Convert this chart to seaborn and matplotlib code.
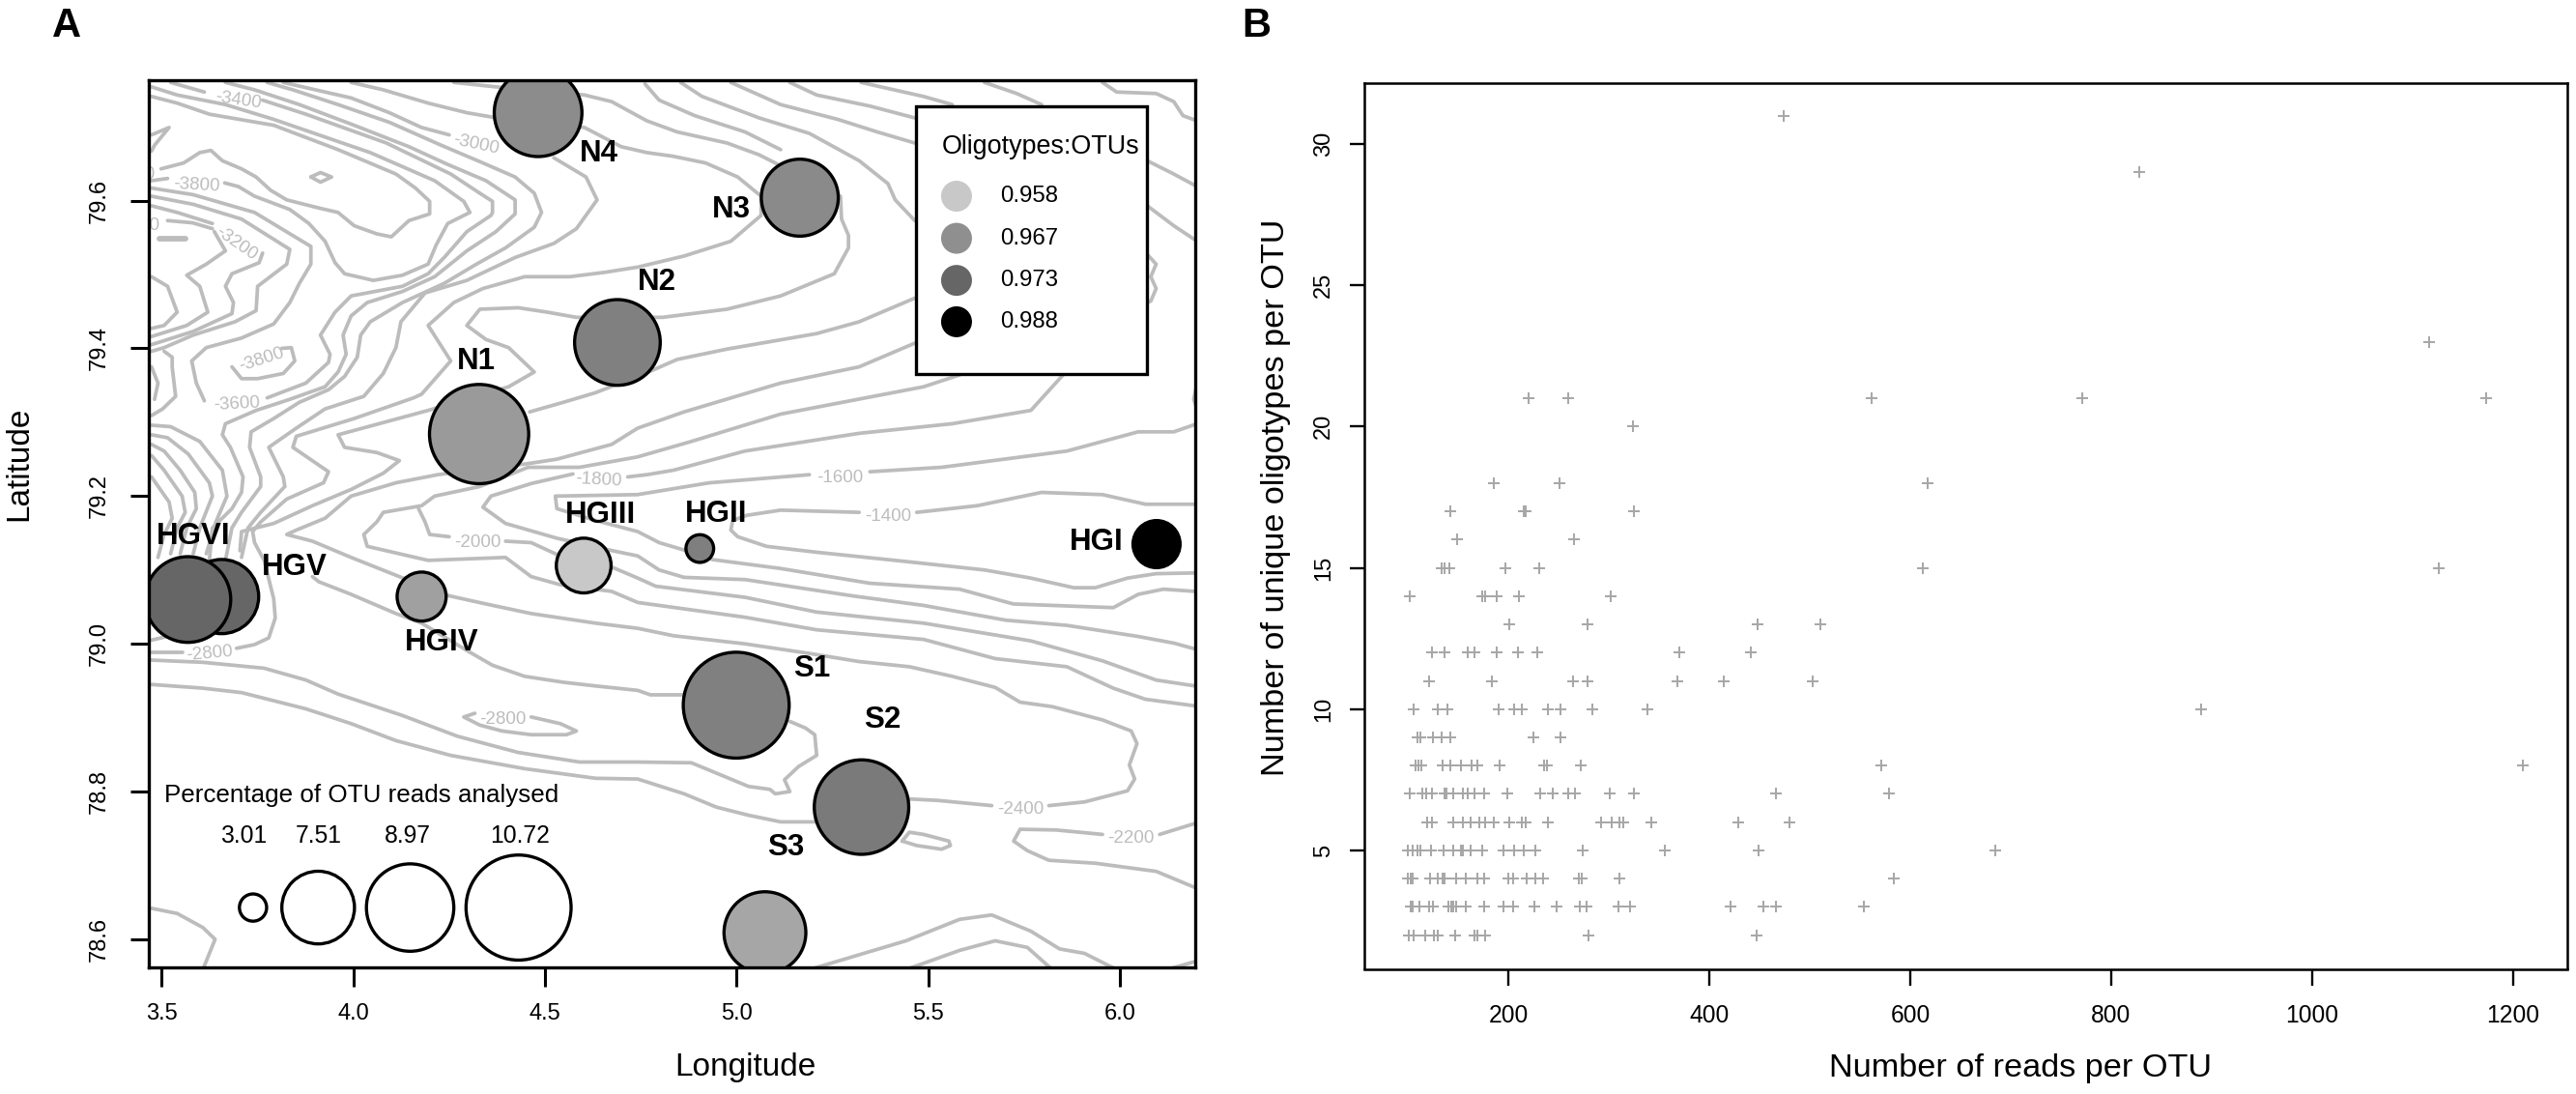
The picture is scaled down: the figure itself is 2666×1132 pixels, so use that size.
import matplotlib
matplotlib.use("Agg")
import matplotlib.pyplot as plt
from matplotlib.patches import Rectangle
import pandas as pd
import seaborn as sns

# ---------- panel A: station values ----------
station_names = ["HGV", "HGVI", "HGIV", "HGIII", "HGII", "HGI", "N1", "N2", "N3", "N4", "S1", "S2", "S3"]
station_lon = [3.656, 3.568, 4.178, 4.601, 4.904, 6.096, 4.328, 4.689, 5.165, 4.482, 4.999, 5.326, 5.074]
station_lat = [79.064, 79.060, 79.064, 79.106, 79.129, 79.135, 79.284, 79.408, 79.604, 79.719, 78.917, 78.779, 78.609]
station_pct = [7.66, 8.80, 5.17, 5.74, 3.06, 4.98, 10.14, 8.80, 7.94, 9.00, 10.80, 9.67, 8.42]
station_fill = ["#666666", "#666666", "#a0a0a0", "#c8c8c8", "#7f7f7f", "#000000", "#9a9a9a", "#808080",
                "#8a8a8a", "#8c8c8c", "#808080", "#7a7a7a", "#a6a6a6"]
label_lon = [3.847, 3.582, 4.230, 4.646, 4.946, 5.940, 4.321, 4.792, 4.986, 4.641, 5.196, 5.380, 5.128]
label_lat = [79.104, 79.146, 79.002, 79.174, 79.176, 79.138, 79.382, 79.490, 79.588, 79.663, 78.966, 78.897, 78.724]

ratio_values = ["0.958", "0.967", "0.973", "0.988"]
ratio_fill = ["#c8c8c8", "#8f8f8f", "#666666", "#000000"]
ratio_lat = [79.606, 79.549, 79.492, 79.436]
size_key_pct = [3.01, 7.51, 8.97, 10.72]
size_key_lon = [3.738, 3.908, 4.148, 4.431]
size_key_text_lon = [3.713, 3.910, 4.142, 4.434]

# bathymetry contours (lon, lat)
c01 = [(3.473,79.741),(3.540,79.732),(3.624,79.717),(3.792,79.702),(3.960,79.669),(4.111,79.636),(4.162,79.617),(4.199,79.599),(4.199,79.582),(4.145,79.573),(4.099,79.551),(4.061,79.555),(4.002,79.566),(3.960,79.584),(3.910,79.590),(3.826,79.601),(3.784,79.614),(3.746,79.632),(3.708,79.643),(3.658,79.654),(3.628,79.668),(3.599,79.665),(3.557,79.651),(3.498,79.643)]
c02 = [(3.473,79.754),(3.540,79.743),(3.666,79.730),(3.792,79.710),(3.876,79.695),(4.044,79.665),(4.212,79.627),(4.288,79.599),(4.304,79.584),(4.246,79.569),(4.216,79.540),(4.195,79.514),(4.128,79.499),(4.052,79.492),(3.977,79.501),(3.952,79.516),(3.926,79.545),(3.884,79.569),(3.834,79.588),(3.742,79.606),(3.700,79.619),(3.664,79.624)]
c03 = [(3.473,79.627),(3.515,79.630)]
c04 = [(3.523,79.760),(3.611,79.747)]
c05 = [(3.763,79.736),(3.876,79.717),(4.086,79.678),(4.254,79.636),(4.330,79.610),(4.363,79.599),(4.363,79.584),(4.359,79.580),(4.296,79.558),(4.237,79.523),(4.195,79.501),(4.128,79.484),(3.994,79.471),(3.952,79.449),(3.914,79.418),(3.939,79.392),(3.935,79.381),(3.876,79.353),(3.775,79.333)]
c06 = [(3.473,79.617),(3.582,79.608),(3.742,79.584),(3.889,79.538),(3.889,79.514),(3.859,79.488),(3.834,79.462),(3.792,79.433),(3.708,79.414),(3.616,79.401),(3.578,79.383),(3.590,79.353),(3.611,79.329)]
c07 = [(3.473,79.606),(3.582,79.595),(3.708,79.575),(3.834,79.534),(3.826,79.514),(3.750,79.484),(3.746,79.451),(3.691,79.436),(3.582,79.418),(3.506,79.401),(3.473,79.396)]
c08 = [(3.473,79.593),(3.540,79.584),(3.632,79.569)]
c09 = [(3.515,79.573),(3.580,79.570),(3.632,79.562)]
c10 = [(3.637,79.558),(3.666,79.532),(3.616,79.514),(3.565,79.499),(3.599,79.484),(3.620,79.449),(3.565,79.431),(3.473,79.416)]
c11 = [(3.763,79.529),(3.754,79.516),(3.683,79.501),(3.666,79.484),(3.687,79.462),(3.683,79.447),(3.582,79.423),(3.473,79.405)]
c12 = [(3.473,79.497),(3.515,79.484),(3.540,79.449),(3.506,79.431),(3.473,79.427)]
c13 = [(3.473,79.689),(3.519,79.699),(3.481,79.675),(3.473,79.667)]
c14 = [(3.506,79.396),(3.527,79.388),(3.527,79.375),(3.536,79.335),(3.502,79.318),(3.473,79.309)]
c15 = [(3.473,79.375),(3.490,79.353),(3.481,79.331)]
c16 = [(3.683,79.375),(3.708,79.359),(3.750,79.359),(3.817,79.366),(3.847,79.383),(3.838,79.401),(3.813,79.400)]
c17 = [(3.889,79.632),(3.914,79.638),(3.943,79.632),(3.914,79.625),(3.889,79.632)]
c18 = [(3.666,79.760),(3.742,79.750),(3.859,79.730),(4.002,79.702),(4.145,79.673),(4.246,79.649),(4.346,79.627),(4.422,79.601),(4.422,79.582),(4.372,79.558),(4.296,79.532),(4.212,79.497),(4.128,79.477),(4.036,79.462),(3.994,79.444),(3.973,79.418),(3.981,79.392),(3.960,79.368),(3.926,79.348),(3.834,79.331),(3.746,79.316),(3.666,79.298),(3.658,79.283),(3.679,79.266),(3.712,79.226),(3.708,79.205),(3.683,79.183),(3.632,79.157),(3.624,79.113)]
c19 = [(3.775,79.760),(3.842,79.750),(3.960,79.730),(4.094,79.706),(4.229,79.675),(4.338,79.651),(4.422,79.632),(4.472,79.610),(4.491,79.584),(4.472,79.564),(4.397,79.536),(4.321,79.514),(4.237,79.488),(4.128,79.462),(4.044,79.436),(4.019,79.418),(4.010,79.388),(3.977,79.362),(3.935,79.344),(3.859,79.327),(3.792,79.305),(3.733,79.287),(3.729,79.266),(3.758,79.226),(3.758,79.213),(3.708,79.178),(3.683,79.157),(3.666,79.113)]
c20 = [(3.817,79.760),(3.901,79.750),(3.994,79.739),(4.094,79.719),(4.178,79.699),(4.250,79.689)]
c21 = [(4.523,79.658),(4.607,79.632),(4.636,79.601),(4.582,79.562),(4.523,79.542),(4.422,79.523),(4.296,79.492),(4.187,79.475),(4.124,79.436),(4.111,79.401),(4.078,79.366),(4.027,79.335),(3.926,79.318),(3.851,79.292),(3.779,79.266),(3.817,79.226),(3.821,79.213),(3.758,79.178),(3.725,79.157),(3.708,79.117)]
c22 = [(3.994,79.760),(4.078,79.750),(4.195,79.732),(4.296,79.719),(4.363,79.713),(4.603,79.699),(4.699,79.673),(4.766,79.665),(4.835,79.660),(4.919,79.651),(5.003,79.632),(5.064,79.606),(5.064,79.580),(4.985,79.545),(4.863,79.525),(4.742,79.510),(4.657,79.503),(4.565,79.497),(4.447,79.497),(4.338,79.481),(4.262,79.462),(4.195,79.431),(4.254,79.383),(4.178,79.338),(4.157,79.333),(4.002,79.305),(3.851,79.281),(3.842,79.266),(3.935,79.233),(3.922,79.218),(3.826,79.196),(3.758,79.165),(3.737,79.152),(3.742,79.137),(3.767,79.113),(3.792,79.061),(3.796,79.035),(3.779,79.008),(3.742,78.999),(3.695,78.994)]
c23 = [(3.553,78.989),(3.473,78.989)]
c24 = [(4.262,79.760),(4.372,79.754),(4.603,79.743),(4.674,79.734),(4.766,79.708),(4.845,79.693),(4.975,79.678),(5.059,79.662),(5.271,79.606),(5.274,79.575),(5.292,79.553),(5.292,79.536),(5.255,79.501),(5.115,79.471),(4.975,79.453),(4.807,79.442),(4.582,79.442),(4.506,79.449),(4.430,79.455),(4.330,79.453),(4.296,79.431),(4.346,79.412),(4.405,79.401),(4.472,79.368),(4.405,79.348),(4.195,79.316),(3.960,79.283),(3.977,79.266),(4.061,79.259),(4.120,79.248),(4.078,79.231),(3.994,79.209),(3.893,79.187),(3.792,79.163),(3.708,79.152),(3.704,79.126)]
c25 = [(4.854,79.760),(4.910,79.741),(5.059,79.712),(5.190,79.691),(5.320,79.654),(5.395,79.623),(5.414,79.601),(5.465,79.573),(6.072,79.527),(6.095,79.514),(6.081,79.497),(6.095,79.481),(6.081,79.464),(6.072,79.462)]
c26 = [(4.761,79.758),(4.798,79.736),(4.891,79.715),(5.022,79.693),(5.115,79.669)]
c27 = [(4.985,79.760),(5.115,79.730),(5.264,79.710),(5.367,79.693),(5.465,79.678),(6.072,79.654),(6.141,79.636),(6.202,79.619)]
c28 = [(5.139,79.760),(5.209,79.743),(5.348,79.728),(5.465,79.712),(6.072,79.593),(6.141,79.566),(6.202,79.545)]
c29 = [(5.325,79.760),(5.488,79.741),(5.563,79.730)]
c30 = [(5.647,79.760),(5.731,79.745),(5.796,79.730)]
c31 = [(5.955,79.760),(5.992,79.747),(6.095,79.745),(6.141,79.734),(6.165,79.715),(6.202,79.708)]
c32 = [(6.202,79.353),(6.193,79.331),(6.202,79.318)]
c33 = [(4.460,79.314),(4.548,79.327),(4.632,79.340),(4.770,79.368),(4.845,79.385),(4.975,79.399),(5.209,79.420),(5.320,79.436),(5.465,79.468)]
c34 = [(5.465,79.407),(5.320,79.375),(5.115,79.353),(4.863,79.314),(4.742,79.292),(4.674,79.270),(4.531,79.250),(4.456,79.244),(4.220,79.229),(4.111,79.218),(3.994,79.200),(3.926,79.170),(3.851,79.154),(3.826,79.148),(3.893,79.139),(3.994,79.117),(4.120,79.091),(4.250,79.065),(4.346,79.054),(4.464,79.041),(4.632,79.028),(4.742,79.021),(4.835,79.011),(5.022,79.000),(5.190,78.987),(5.320,78.976),(5.451,78.969),(5.563,78.956),(5.675,78.941),(5.740,78.921),(5.824,78.915),(5.955,78.897),(6.030,78.882),(6.045,78.865),(6.025,78.836),(6.039,78.817),(6.020,78.801),(5.908,78.786),(5.815,78.781)]
c35 = [(5.666,78.781),(5.526,78.788),(5.451,78.790),(5.204,78.759),(5.115,78.759),(5.031,78.768),(4.947,78.779),(4.863,78.797),(4.742,78.817),(4.632,78.818),(4.447,78.831),(4.254,78.849),(4.111,78.869),(3.994,78.892),(3.876,78.912),(3.708,78.934),(3.607,78.940),(3.473,78.945)]
c36 = [(5.139,78.895),(5.180,78.886),(5.204,78.877),(5.209,78.849),(5.162,78.834),(5.125,78.816),(5.139,78.800),(5.101,78.797),(5.087,78.803),(5.031,78.807),(4.966,78.821),(4.882,78.839),(4.742,78.840),(4.590,78.840),(4.430,78.853),(4.271,78.875),(4.128,78.903),(3.960,78.932),(3.876,78.951),(3.767,78.967),(3.607,78.975),(3.473,78.978)]
c37 = [(4.859,78.931),(4.775,78.931),(4.742,78.937),(4.632,78.943),(4.548,78.948),(4.447,78.956),(4.363,78.971),(4.296,78.991),(4.178,79.028),(4.111,79.041),(3.994,79.067),(3.910,79.084),(3.893,79.091)]
c38 = [(6.197,78.916),(6.067,78.925),(5.983,78.940),(5.862,78.969),(5.675,78.980),(5.488,79.006),(5.209,79.019),(5.022,79.036),(4.742,79.056),(4.674,79.071),(4.540,79.080),(4.464,79.091),(4.397,79.117),(4.195,79.113),(4.036,79.132),(4.027,79.148),(4.061,79.165),(4.078,79.178),(4.178,79.187),(4.212,79.200),(4.330,79.213),(4.456,79.239),(4.590,79.239),(4.741,79.253),(4.882,79.274),(5.115,79.311),(5.488,79.348),(5.582,79.364)]
c39 = [(6.197,78.943),(6.095,78.951),(5.955,78.977),(5.768,79.004),(5.488,79.028),(5.209,79.043),(5.022,79.063),(4.789,79.078),(4.742,79.089),(4.674,79.104),(4.531,79.121),(4.464,79.137),(4.397,79.139)]
c40 = [(4.250,79.145),(4.199,79.148),(4.187,79.165),(4.170,79.183)]
c41 = [(6.197,78.993),(6.141,79.001),(6.048,79.010),(5.862,79.025),(5.703,79.032),(5.488,79.052),(5.302,79.065),(5.022,79.087),(4.863,79.090),(4.798,79.100),(4.742,79.119),(4.677,79.126),(4.531,79.143),(4.397,79.163),(4.338,79.185),(4.359,79.200),(4.464,79.217),(4.573,79.230)]
c42 = [(4.716,79.226),(4.766,79.229),(4.835,79.235),(5.022,79.261),(5.320,79.285),(5.563,79.298),(5.768,79.316),(5.852,79.364)]
c43 = [(6.197,79.071),(6.114,79.074),(6.048,79.067),(5.983,79.049),(5.722,79.054),(5.582,79.074),(5.348,79.082),(5.115,79.102),(4.938,79.114),(4.863,79.127),(4.798,79.137),(4.742,79.152),(4.632,79.167),(4.531,79.183),(4.527,79.200),(4.741,79.202),(4.929,79.218),(5.190,79.229)]
c44 = [(5.348,79.233),(5.535,79.239),(5.862,79.261),(6.048,79.287),(6.141,79.287),(6.202,79.298)]
c45 = [(5.320,79.178),(5.115,79.181),(5.027,79.174),(4.990,79.167),(4.985,79.154),(5.003,79.145),(5.078,79.132),(5.209,79.124),(5.432,79.112),(5.647,79.100),(5.768,79.089),(5.880,79.076),(5.936,79.076),(6.020,79.089),(6.095,79.095),(6.197,79.096)]
c46 = [(5.470,79.178),(5.628,79.187),(5.796,79.205),(5.955,79.202),(6.067,79.189),(6.202,79.189)]
c47 = [(6.197,78.670),(6.095,78.692),(5.936,78.703),(5.815,78.707),(5.759,78.720),(5.723,78.733),(5.740,78.749),(5.834,78.748),(5.955,78.742)]
c48 = [(6.104,78.742),(6.197,78.757)]
c49 = [(5.432,78.733),(5.451,78.745),(5.488,78.742),(5.554,78.733),(5.558,78.727),(5.535,78.722),(5.470,78.727),(5.432,78.733)]
c50 = [(5.190,78.559),(5.442,78.598),(5.582,78.627),(5.666,78.633),(5.768,78.611),(5.843,78.587),(5.908,78.581),(5.992,78.559)]
c51 = [(5.442,78.559),(5.582,78.585),(5.675,78.598),(5.759,78.589),(5.824,78.559)]
c52 = [(6.123,78.559),(6.197,78.570)]
c53 = [(3.473,78.642),(3.540,78.635),(3.607,78.616),(3.639,78.600),(3.607,78.559)]
c54 = [(3.473,79.296),(3.523,79.294),(3.599,79.274),(3.658,79.235),(3.670,79.200),(3.641,79.165),(3.616,79.122)]
c55 = [(3.473,79.283),(3.515,79.279),(3.569,79.257),(3.624,79.218),(3.632,79.200),(3.599,79.157),(3.582,79.122)]
c56 = [(3.473,79.270),(3.506,79.261),(3.548,79.235),(3.586,79.205),(3.590,79.183),(3.565,79.157),(3.548,79.122)]
c57 = [(3.473,79.255),(3.506,79.235),(3.553,79.200),(3.561,79.178),(3.540,79.157),(3.523,79.122)]
c58 = [(3.473,79.226),(3.519,79.192),(3.527,79.170),(3.506,79.148),(3.490,79.117)]
c59 = [(3.473,79.005),(3.530,79.012)]
c60 = [(4.317,78.906),(4.288,78.901),(4.330,78.890),(4.388,78.882),(4.464,78.877),(4.556,78.877),(4.582,78.882),(4.540,78.892),(4.464,78.901)]
contours = [c01, c02, c03, c04, c05, c06, c07, c08, c09, c10, c11, c12, c13, c14, c15, c16, c17, c18, c19, c20,
            c21, c22, c23, c24, c25, c26, c27, c28, c29, c30, c31, c32, c33, c34, c35, c36, c37, c38, c39, c40,
            c41, c42, c43, c44, c45, c46, c47, c48, c49, c50, c51, c52, c53, c54, c55, c56, c57, c58, c59, c60]
thick_dash = [(3.494,79.549),(3.561,79.549)]

depth_text = ["-3400", "-3000", "-3800", "-3200", "-3800", "-3600", "-1800", "-1600", "-1400", "-2000", "-2800", "-2800", "-2400", "-2200"]
depth_lon = [3.700, 4.320, 3.590, 3.695, 3.760, 3.695, 4.639, 5.269, 5.395, 4.323, 3.624, 4.390, 5.742, 6.030]
depth_lat = [79.736, 79.676, 79.621, 79.542, 79.385, 79.325, 79.222, 79.225, 79.172, 79.137, 78.987, 78.898, 78.776, 78.737]
depth_rot = [-8, -12, -3, -35, 18, 3, -3, 0, 0, 0, 5, 0, 0, 0]

# ---------- panel B: reads per OTU, grouped by number of oligotypes ----------
oligotype_counts = [2, 3, 4, 5, 6, 7, 8, 9, 10, 11, 12, 13, 14, 15, 16, 17, 18, 20, 21, 23, 29, 31]
r02 = [101, 106, 117, 126, 130, 147, 166, 169, 177, 280, 447]
r03 = [103, 105, 111, 121, 125, 140, 143, 145, 148, 157, 176, 195, 205, 226, 248, 271, 278, 309, 321, 421, 454, 466, 554]
r04 = [100, 103, 105, 122, 130, 134, 136, 148, 157, 169, 176, 200, 205, 218, 227, 234, 270, 273, 310, 584]
r05 = [100, 105, 109, 112, 123, 135, 145, 153, 155, 162, 174, 195, 206, 215, 227, 274, 356, 449, 685]
r06 = [119, 124, 145, 155, 162, 171, 177, 185, 201, 213, 217, 239, 292, 303, 310, 314, 342, 429, 480]
r07 = [102, 114, 118, 124, 136, 138, 145, 155, 159, 166, 176, 199, 232, 244, 259, 266, 301, 325, 466, 579]
r08 = [107, 110, 113, 134, 142, 153, 163, 169, 191, 235, 238, 272, 571, 1210]
r09 = [109, 112, 125, 133, 142, 225, 252]
r10 = [106, 130, 139, 190, 206, 213, 239, 252, 283, 338, 889]
r11 = [121, 183, 264, 279, 368, 414, 503]
r12 = [124, 136, 159, 166, 188, 209, 229, 370, 441]
r13 = [201, 279, 448, 510]
r14 = [102, 174, 177, 188, 210, 302]
r15 = [133, 136, 141, 197, 231, 612, 1126]
r16 = [149, 265]
r17 = [142, 215, 217, 325]
r18 = [185, 251, 617]
r20 = [324]
r21 = [220, 259, 561, 771, 1173]
r23 = [1116]
r29 = [828]
r31 = [474]
reads_by_count = [r02, r03, r04, r05, r06, r07, r08, r09, r10, r11, r12, r13, r14, r15, r16, r17, r18, r20, r21, r23, r29, r31]

# ---------- style ----------
sns.set_theme(style="ticks")
plt.rcParams["font.family"] = ["Liberation Sans", "DejaVu Sans"]
W, H = 2666, 1132
fig = plt.figure(figsize=(W / 100, H / 100), dpi=100, facecolor="white")


def place(left, top, right, bottom):
    return fig.add_axes([left / W, 1 - bottom / H, (right - left) / W, (bottom - top) / H])


def bubbles(ax, names, lon, lat, pct, fills, zorder):
    frame = pd.DataFrame({"name": names, "lon": lon, "lat": lat})
    sizes = {n: ((p * 10.45 - 3.3) * 0.72) ** 2 for n, p in zip(names, pct)}
    sns.scatterplot(data=frame, x="lon", y="lat", hue="name", size="name", palette=dict(zip(names, fills)),
                    sizes=sizes, legend=False, edgecolor="black", linewidth=2.4, ax=ax, zorder=zorder)


# ---------- panel A ----------
ax = place(154, 83, 1237, 1001)
ax.set_xlim(3.466, 6.197)
ax.set_ylim(78.562, 79.763)
CONTOUR = "#bcbcbc"
for line in contours:
    sns.lineplot(x=[p[0] for p in line], y=[p[1] for p in line], sort=False, estimator=None,
                 color=CONTOUR, linewidth=2.7, ax=ax, zorder=1)
sns.lineplot(x=[p[0] for p in thick_dash], y=[p[1] for p in thick_dash], sort=False, estimator=None,
             color=CONTOUR, linewidth=4.2, ax=ax, zorder=1)
for t, x, y, r in zip(depth_text, depth_lon, depth_lat, depth_rot):
    ax.text(x, y, t, color="#bdbdbd", fontsize=13.5, rotation=r, ha="center", va="center", zorder=1)
ax.text(3.483, 79.636, "-3600", color="#bdbdbd", fontsize=13.5, ha="right", va="center", clip_on=True, zorder=1)
ax.text(3.494, 79.566, "-3400", color="#bdbdbd", fontsize=13.5, ha="right", va="center", clip_on=True, zorder=1)

bubbles(ax, station_names, station_lon, station_lat, station_pct, station_fill, 2)
for n, x, y in zip(station_names, label_lon, label_lat):
    ax.text(x, y, n, fontsize=22.5, fontweight="bold", color="black", ha="center", va="center", zorder=5)

# ratio legend
ax.add_patch(Rectangle(((948 - 154) / 1083, (1001 - 387) / 918), 239 / 1083, 277 / 918, transform=ax.transAxes,
                       facecolor="white", edgecolor="black", linewidth=2.4, zorder=3))
ax.text(5.535, 79.673, "Oligotypes:OTUs", fontsize=19.4, ha="left", va="center", color="black", zorder=5)
sns.scatterplot(x=[5.574] * len(ratio_lat), y=ratio_lat, hue=ratio_values, palette=dict(zip(ratio_values, ratio_fill)),
                s=(32 * 0.72) ** 2, linewidth=0, legend=False, ax=ax, zorder=4)
for t, y in zip(ratio_values, ratio_lat):
    ax.text(5.689, y, t, fontsize=17.3, ha="left", va="center", color="black", zorder=5)

# size key
ax.text(3.506, 78.795, "Percentage of OTU reads analysed", fontsize=18.7, ha="left", va="center", color="black", zorder=5)
bubbles(ax, [str(p) for p in size_key_pct], size_key_lon, [78.643] * 4, size_key_pct, ["white"] * 4, 2)
for p, x in zip(size_key_pct, size_key_text_lon):
    ax.text(x, 78.740, f"{p:.2f}", fontsize=17.8, ha="center", va="center", color="black", zorder=5)

ax.set_xticks([3.5, 4.0, 4.5, 5.0, 5.5, 6.0])
ax.set_yticks([78.6, 78.8, 79.0, 79.2, 79.4, 79.6])
ax.set_xticklabels(["3.5", "4.0", "4.5", "5.0", "5.5", "6.0"])
ax.set_yticklabels(["78.6", "78.8", "79.0", "79.2", "79.4", "79.6"], rotation=90, va="center")
ax.tick_params(axis="x", length=14.4, width=2.2, labelsize=17, pad=12, color="black", labelcolor="black")
ax.tick_params(axis="y", length=14, width=2.2, labelsize=17, pad=15, color="black", labelcolor="black")
for s in ax.spines.values():
    s.set_linewidth(2.4)
    s.set_color("black")
ax.set_xlabel("Longitude", fontsize=24, color="black", va="center")
ax.set_ylabel("Latitude", fontsize=24, color="black", va="center")
ax.xaxis.set_label_coords(0.570, -0.113)
ax.yaxis.set_label_coords(-0.124, 0.5675)

# ---------- panel B ----------
bx = place(1411.5, 86, 2657, 1002.5)
reads_all = [r for row in reads_by_count for r in row]
counts_all = [c for c, row in zip(oligotype_counts, reads_by_count) for _ in row]
sns.scatterplot(x=reads_all, y=counts_all, marker="+", s=81, color="#a6a6a6", linewidth=1.4, ax=bx, legend=False)
bx.set_xlim(56, 1254)
bx.set_ylim(0.81, 32.15)
bx.set_xticks([200, 400, 600, 800, 1000, 1200])
bx.set_yticks([5, 10, 15, 20, 25, 30])
bx.set_yticklabels(["5", "10", "15", "20", "25", "30"], rotation=90, va="center")
bx.tick_params(axis="x", length=12, width=1.7, labelsize=17.7, pad=14, color="black", labelcolor="black")
bx.tick_params(axis="y", length=11, width=1.7, labelsize=17, pad=11, color="black", labelcolor="black")
for s in bx.spines.values():
    s.set_linewidth(1.8)
    s.set_color("black")
bx.set_xlabel("Number of reads per OTU", fontsize=24.7, color="black", va="center")
bx.set_ylabel("Number of unique oligotypes per OTU", fontsize=24.7, color="black", va="center")
bx.xaxis.set_label_coords(0.5456, -0.112)
bx.yaxis.set_label_coords(-0.0727, 0.532)

fig.text(54 / W, 1 - 38 / H, "A", fontsize=30, fontweight="bold", color="black", ha="left", va="baseline")
fig.text(1285 / W, 1 - 38 / H, "B", fontsize=30, fontweight="bold", color="black", ha="left", va="baseline")

fig.savefig("out.png", dpi=100, facecolor="white")
